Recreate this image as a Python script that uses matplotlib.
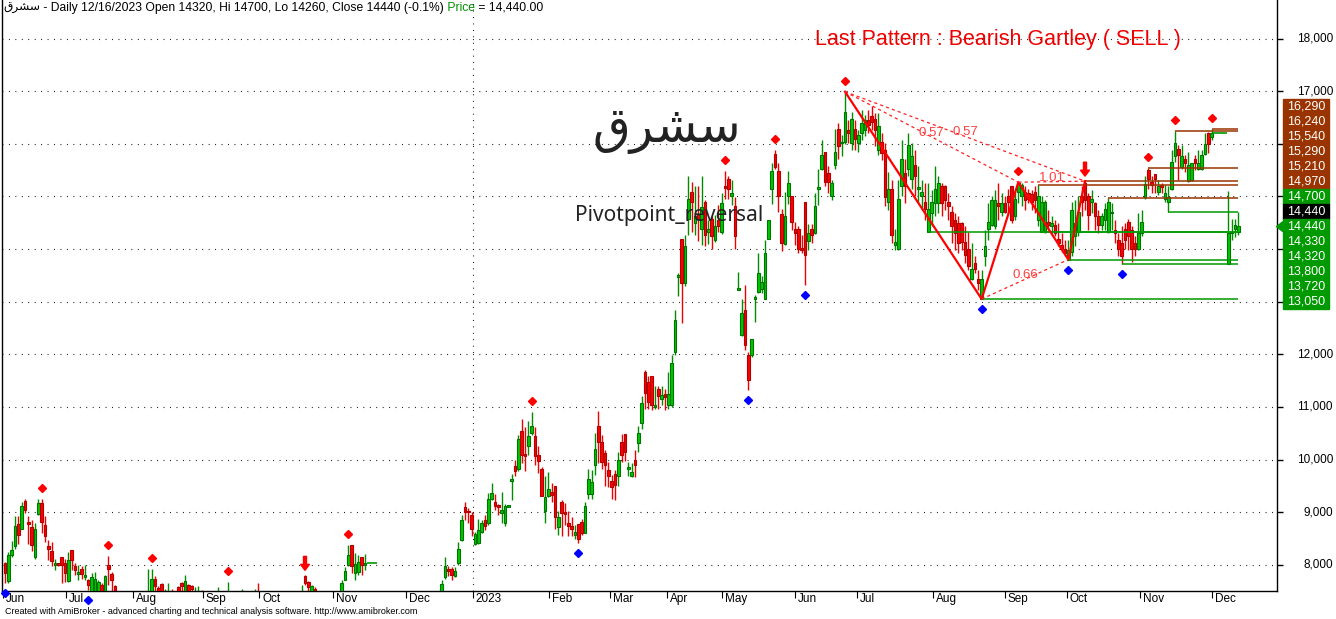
import matplotlib
matplotlib.use('Agg')
import matplotlib.pyplot as plt
import matplotlib.transforms as mtransforms
from matplotlib.patches import Rectangle, Polygon
import numpy as np

# daily bars, Jun 2022 .. 16 Dec 2023
opens = [
    8030, 7690, 8190, 8350, 8780, 8690, 9210, 8820, 8710, 8140,
    8960, 9170, 8760, 8360, 8260, 8000, 8030, 8140, 8040, 7700,
    8280, 7980, 7830, 7920, 7760, 7710, 7460, 7450, 7420, 7620,
    7420, 8000, 7830, 7600, 7440, 7350, 7300, 7380, 7280, 7220,
    7260, 7200, 7330, 7300, 7450, 7740, 7560, 7630, 7400, 7450,
    7510, 7420, 7570, 7650, 7480, 7620, 7590, 7450, 7450, 7480,
    7400, 7350, 7420, 7380, 7400, 7450, 7400, 7420, 7460, 7400,
    7360, 7380, 7420, 7380, 7330, 7350, 7450, 7420, 7380, 7330,
    7280, 7320, 7250, 7200, 7250, 7220, 7280, 7300, 7350, 7400,
    7790, 7670, 7450, 7550, 7420, 7330, 7300, 7330, 7280, 7320,
    7350, 7500, 7710, 7990, 8370, 7850, 7870, 8140, 7990, 8040,
    8040, 8040, 7450, 7300, 7200, 7150, 7180, 7120, 7100, 7140,
    7110, 7160, 7200, 7180, 7230, 7280, 7250, 7300, 7350, 7400,
    7380, 7500, 7760, 7930, 7930, 7780, 8030, 8470, 9090, 9030,
    8950, 8390, 8410, 8630, 8850, 8790, 9260, 9200, 9140, 8980,
    8800, 9110, 9600, 9880, 9830, 10540, 10110, 10260, 10510, 10450,
    10090, 9830, 9030, 9300, 9380, 9500, 8710, 9190, 9000, 8790,
    8730, 8570, 8780, 8820, 8610, 9340, 9340, 9900, 10640, 10330,
    10120, 9800, 9590, 9720, 9690, 10330, 10490, 9820, 9680, 9990,
    10320, 10690, 11670, 11480, 11580, 10990, 11340, 11160, 11250, 11040,
    11040, 12050, 13480, 14190, 13350, 14570, 15090, 14490, 14650, 14390,
    14900, 14330, 14580, 14170, 14550, 14330, 15200, 15340, 15000, 14810,
    13230, 12370, 12840, 11990, 11990, 13050, 13190, 13250, 13060, 14190,
    15140, 15810, 15490, 14670, 14100, 15010, 15010, 14390, 14390, 14020,
    14900, 14160, 14380, 14300, 15140, 15530, 15850, 15450, 15000, 15600,
    16290, 16010, 16040, 16260, 16010, 16290, 16010, 16200, 16260, 16450,
    16520, 16480, 15880, 16040, 15880, 14900, 15150, 14080, 14000, 15190,
    15440, 15530, 15340, 15600, 15140, 15000, 14900, 14330, 14680, 14870,
    14870, 15190, 15190, 14900, 14710, 14550, 14490, 14490, 14140, 14010,
    13440, 13740, 13440, 13050, 13860, 14390, 14460, 14430, 14870, 14710,
    14880, 15000, 15190, 14620, 15090, 15000, 15090, 15070, 15050, 15090,
    14550, 14330, 14330, 14520, 14430, 14460, 14200, 14080, 14010, 13800,
    13950, 14240, 14330, 15000, 15250, 15000, 14900, 14870, 14620, 14460,
    14550, 14330, 14680, 14360, 14170, 14110, 14390, 14520, 14360, 14110,
    14010, 14300, 14980, 15500, 15280, 15430, 15090, 15220, 14960, 14900,
    15140, 15770, 15900, 15550, 15710, 15300, 15310, 15710, 15530, 15520,
    15810, 16210, 16120, 16200, 16200, 16200, 16200, 13720, 14300, 14390,
    14320,
]
highs = [
    8060, 8250, 8460, 8920, 8920, 9200, 9250, 8920, 8850, 8790,
    9250, 9250, 8920, 8470, 8440, 8120, 8040, 8140, 8120, 8250,
    8280, 8030, 8000, 7970, 8000, 7740, 7840, 7870, 7710, 7650,
    7810, 8170, 7870, 7620, 7480, 7420, 7400, 7450, 7380, 7300,
    7320, 7380, 7420, 7920, 7920, 7780, 7600, 7650, 7550, 7650,
    7540, 7500, 7600, 7680, 7810, 7640, 7620, 7570, 7590, 7520,
    7430, 7460, 7470, 7430, 7570, 7480, 7450, 7680, 7490, 7440,
    7400, 7540, 7460, 7420, 7380, 7540, 7650, 7450, 7420, 7380,
    7350, 7360, 7300, 7280, 7300, 7300, 7330, 7380, 7420, 7620,
    7800, 7690, 7620, 7570, 7450, 7380, 7350, 7380, 7340, 7380,
    7420, 7710, 7950, 8370, 8370, 8220, 8190, 8140, 8200, 8040,
    8040, 8040, 7480, 7350, 7260, 7220, 7250, 7180, 7160, 7200,
    7180, 7230, 7260, 7250, 7300, 7330, 7320, 7380, 7420, 7460,
    7450, 7710, 8140, 7980, 7960, 7950, 8440, 8950, 9200, 9080,
    9000, 8620, 8870, 8850, 8950, 9360, 9550, 9350, 9160, 9390,
    9150, 9130, 9720, 10000, 10470, 10770, 10610, 10740, 10910, 10610,
    10260, 9850, 9680, 9770, 9560, 9500, 9030, 9230, 9180, 9020,
    8900, 8760, 8780, 8880, 9200, 9820, 9800, 10500, 10930, 10470,
    10180, 9960, 9710, 9800, 10150, 10490, 10490, 9960, 9940, 10180,
    10640, 11210, 11700, 11580, 11590, 11390, 11390, 11390, 11350, 11670,
    11990, 12840, 13540, 14190, 14270, 15380, 15280, 15200, 15200, 15380,
    14930, 14550, 14630, 14650, 14840, 15070, 15490, 15380, 15310, 14980,
    13570, 13060, 13320, 12050, 12290, 13130, 13920, 13480, 14170, 14550,
    15630, 15880, 15640, 14770, 15090, 15490, 15010, 14520, 14430, 14270,
    14900, 14480, 14480, 15060, 15530, 16070, 15850, 15580, 15310, 16290,
    16390, 16170, 16990, 16450, 16610, 16450, 16260, 16640, 16550, 16640,
    16710, 16580, 16580, 16200, 16010, 15470, 15310, 14390, 15310, 16070,
    15720, 16200, 16010, 15880, 15570, 15310, 15250, 15250, 15120, 15570,
    15380, 15250, 15220, 15060, 14810, 14680, 14620, 14520, 14430, 14330,
    14110, 13860, 13600, 13600, 14360, 14870, 15000, 15120, 15250, 15060,
    15000, 15150, 15200, 15120, 15270, 15250, 15190, 15150, 15120, 15190,
    15210, 15000, 14930, 14740, 14620, 14550, 14490, 14300, 14170, 14170,
    14900, 14930, 15000, 15190, 15290, 15060, 15120, 14900, 14740, 14680,
    14870, 14970, 14870, 14550, 14300, 14430, 14490, 14580, 14430, 14240,
    14680, 14740, 15390, 15540, 15390, 15430, 15310, 15250, 15220, 15200,
    15880, 16240, 15980, 15980, 15790, 15850, 15630, 15790, 15880, 15880,
    16200, 16230, 16290, 16200, 16200, 16200, 16200, 15110, 14570, 14580,
    14700,
]
lows = [
    7660, 7650, 8140, 8310, 8400, 8680, 8980, 8400, 8270, 8120,
    8950, 8610, 8440, 8090, 7970, 7900, 7970, 7650, 7680, 7680,
    7900, 7810, 7710, 7740, 7710, 7520, 7380, 7350, 7330, 7350,
    7360, 7620, 7450, 7380, 7300, 7250, 7200, 7250, 7180, 7150,
    7180, 7150, 7250, 7250, 7400, 7400, 7350, 7400, 7350, 7400,
    7350, 7380, 7400, 7450, 7420, 7400, 7450, 7400, 7400, 7350,
    7300, 7300, 7350, 7320, 7350, 7380, 7350, 7380, 7380, 7330,
    7300, 7330, 7350, 7300, 7280, 7300, 7380, 7350, 7300, 7250,
    7200, 7220, 7180, 7150, 7180, 7170, 7220, 7250, 7300, 7350,
    7620, 7450, 7400, 7350, 7300, 7250, 7220, 7260, 7200, 7260,
    7280, 7450, 7710, 7980, 7850, 7710, 7810, 7810, 7900, 8040,
    8040, 8040, 7250, 7150, 7100, 7080, 7100, 7050, 7020, 7080,
    7050, 7100, 7140, 7120, 7180, 7200, 7200, 7250, 7300, 7330,
    7320, 7450, 7740, 7780, 7710, 7760, 8000, 8450, 8850, 8800,
    8550, 8370, 8390, 8600, 8660, 8760, 9230, 9050, 8950, 8790,
    8730, 9100, 9230, 9680, 9790, 9930, 9790, 10090, 10470, 9900,
    9750, 9310, 8790, 9280, 9200, 8690, 8570, 8550, 8760, 8550,
    8550, 8490, 8410, 8570, 8600, 9250, 9250, 9710, 9930, 9830,
    9490, 9470, 9250, 9230, 9500, 9960, 9980, 9690, 9660, 9660,
    10150, 10580, 10970, 10970, 10940, 10960, 10970, 11040, 10940, 10970,
    11000, 11990, 13100, 12590, 13290, 14270, 14330, 14270, 14160, 14080,
    14050, 14100, 14010, 14140, 14330, 14290, 14960, 14960, 14840, 14010,
    13230, 12340, 12080, 11320, 11950, 12620, 13160, 13160, 13060, 14190,
    14860, 15530, 14710, 13970, 14080, 14860, 14360, 14080, 13920, 13920,
    13320, 13980, 14110, 14290, 14840, 15500, 15190, 15060, 14930, 15530,
    15720, 15760, 16000, 16010, 15880, 15880, 15850, 16070, 16140, 16200,
    16260, 15950, 15790, 15690, 14810, 14740, 14110, 13980, 13980, 15000,
    14870, 15380, 15150, 15000, 14870, 14740, 14550, 14320, 14430, 14620,
    14680, 14620, 14740, 14550, 14110, 13980, 13920, 13980, 13730, 13600,
    13410, 13540, 13220, 13050, 13670, 14170, 14430, 14390, 14550, 14620,
    14680, 14680, 14490, 14550, 14870, 14810, 14740, 14870, 14740, 14680,
    14430, 14330, 14300, 14360, 14300, 14240, 14050, 13950, 13860, 13800,
    13860, 14050, 14240, 14620, 14740, 14360, 14680, 14360, 14300, 14360,
    14360, 14300, 14360, 14110, 13860, 13720, 14010, 13980, 13760, 13860,
    13980, 14240, 14960, 15150, 15060, 15060, 15030, 15060, 14900, 14700,
    15120, 15660, 15310, 15530, 15470, 15280, 15300, 15500, 15500, 15500,
    15790, 15830, 16070, 16200, 16200, 16200, 16200, 13720, 14170, 14220,
    14260,
]
closes = [
    7840, 8190, 8280, 8740, 8570, 9120, 9040, 8770, 8380, 8680,
    9180, 8820, 8540, 8300, 8080, 8030, 8000, 8000, 7850, 8090,
    8090, 7900, 7870, 7830, 7810, 7620, 7760, 7740, 7680, 7420,
    7790, 7920, 7710, 7440, 7350, 7300, 7380, 7280, 7220, 7260,
    7200, 7330, 7300, 7480, 7730, 7590, 7420, 7480, 7500, 7510,
    7420, 7470, 7480, 7590, 7690, 7490, 7540, 7510, 7500, 7400,
    7350, 7420, 7380, 7400, 7450, 7400, 7420, 7460, 7400, 7360,
    7380, 7420, 7380, 7330, 7350, 7400, 7420, 7380, 7330, 7280,
    7320, 7250, 7200, 7250, 7220, 7280, 7300, 7350, 7400, 7480,
    7660, 7570, 7590, 7420, 7330, 7300, 7330, 7280, 7320, 7350,
    7400, 7650, 7880, 8180, 7970, 8010, 8060, 8000, 8040, 8040,
    8040, 8040, 7300, 7200, 7150, 7180, 7120, 7100, 7140, 7110,
    7160, 7200, 7180, 7230, 7280, 7250, 7300, 7350, 7400, 7380,
    7420, 7640, 7970, 7890, 7810, 7880, 8300, 8850, 9000, 9000,
    8690, 8590, 8660, 8790, 8730, 9260, 9360, 9120, 9090, 9040,
    9120, 9120, 9630, 9790, 10390, 10090, 10060, 10450, 10640, 10070,
    9980, 9310, 9280, 9440, 9330, 8900, 8900, 8990, 8970, 8730,
    8680, 8620, 8490, 8600, 9120, 9630, 9570, 10210, 10340, 9960,
    9900, 9680, 9470, 9520, 9990, 10090, 10150, 9850, 9760, 9900,
    10500, 11070, 11260, 11100, 11040, 11040, 11210, 11230, 11180, 11250,
    11840, 12650, 13500, 13350, 14060, 14960, 14900, 14630, 14580, 14790,
    14270, 14390, 14240, 14430, 14440, 14870, 15170, 15150, 15060, 14240,
    13260, 12790, 12180, 11510, 12290, 13080, 13540, 13380, 13930, 14550,
    15490, 15550, 15010, 14120, 14620, 15250, 14520, 14310, 14000, 13990,
    13890, 14300, 14270, 14820, 15170, 15790, 15280, 15280, 15250, 15850,
    15950, 16040, 16610, 16200, 16480, 16100, 16170, 16390, 16450, 16360,
    16420, 16260, 16330, 15820, 14980, 15150, 14270, 14140, 14960, 15720,
    15190, 15980, 15770, 15380, 15170, 15090, 14770, 14770, 14900, 15150,
    15250, 14870, 14930, 14810, 14430, 14300, 14110, 14140, 13890, 13670,
    13630, 13630, 13350, 13440, 14050, 14520, 14930, 14930, 14810, 14870,
    14710, 14900, 14550, 14960, 15250, 15220, 14930, 14950, 14900, 14930,
    15010, 14900, 14900, 14460, 14490, 14300, 14110, 14010, 13920, 13980,
    14740, 14490, 14710, 14900, 14930, 14650, 14960, 14620, 14460, 14620,
    14770, 14900, 14710, 14300, 14010, 13860, 14170, 14240, 14010, 14010,
    14300, 14520, 15240, 15340, 15220, 15330, 15200, 15190, 15060, 14980,
    15660, 16010, 15790, 15770, 15630, 15600, 15630, 15640, 15630, 15790,
    16000, 16000, 16200, 16200, 16200, 16200, 16200, 14310, 14330, 14460,
    14440,
]

month_pos = [-0.5, 18.3, 38.3, 59.3, 76.3, 98.3, 120.3, 140.3, 163.3, 181.5,
             198.5, 215.0, 237.0, 255.5, 278.5, 300.0, 318.5, 340.5, 362.0]
month_labels = ['Jun', 'Jul', 'Aug', 'Sep', 'Oct', 'Nov', 'Dec', '2023', 'Feb', 'Mar',
                'Apr', 'May', 'Jun', 'Jul', 'Aug', 'Sep', 'Oct', 'Nov', 'Dec']
year_split = 140.3
price_ticks = list(range(8000, 18001, 1000))
# right-axis labels that stay visible (the rest sit under the level tags)
price_labels = [8000, 9000, 10000, 11000, 12000, 17000, 18000]

piv_hi = [11, 31, 44, 67, 103, 158, 216, 231, 252, 304, 343, 351, 362]
piv_lo = [0, 25, 172, 223, 240, 293, 319, 335]
sell_arrows = [90, 324]

# Gartley X, A, B, C, D
gart_bars = [252, 293, 304, 319, 324]
gart_ratios = ['0.57', '0.57', '1.01', '0.66']

res_levels = [16290, 16240, 15540, 15290, 15210, 14970]
res_start = [362, 351, 343, 324, 310, 331]
sup_levels = [14700, 14330, 14320, 13800, 13720, 13050]
sup_start = [349, 311, 277, 319, 335, 293]

ticker = '\ufed5\ufeae\ufeb8\ufeb3'  # سشرق, shaped glyphs in display order

W, H = 1336, 619
def fx(px):
    return px / W
def fy(py):
    return 1 - py / H

GREEN = '#009a00'
BROWN = '#993300'
LATIN = ['Liberation Sans', 'DejaVu Sans']

fig = plt.figure(figsize=(W / 100, H / 100), dpi=100)
ax = fig.add_axes([fx(1.5), fy(591), fx(1277) - fx(1.5), fy(0) - fy(591)])
ymin, ymax = 7503, 18732
ax.set_ylim(ymin, ymax)
ax.set_xlim(-1.05, 381.6)
dy = (ymax - ymin) / 591.0     # price per pixel
dx = 1 / 3.333                 # bars per pixel

# dotted grid
for p in price_ticks:
    ax.axhline(p, color='black', lw=0.8, ls=(0, (0.8, 5)), zorder=0)
ax.axvline(year_split, color='black', lw=0.8, ls=(0, (0.8, 5)), zorder=0)

# candles
o, h, l, c = (np.array(v, dtype=float) for v in (opens, highs, lows, closes))
idx = np.arange(len(c))
flat = h == l
up = c >= o
m = ~flat
ax.vlines(idx[m], l[m], h[m], colors=np.where(up[m], '#008c00', '#ee0000'), lw=1.0, zorder=2)
bh = np.maximum(np.abs(c - o), 35)
bb = (o + c) / 2 - bh / 2
ax.bar(idx[m], bh[m], bottom=bb[m], width=0.8,
       color=np.where(up[m], '#00c800', '#ff0000'),
       edgecolor=np.where(up[m], '#007400', '#b00000'), lw=0.8, zorder=3)
ax.hlines(c[flat], idx[flat] - 0.5, idx[flat] + 0.5, colors=GREEN, lw=1.2, zorder=3)

# support / resistance levels
last = len(c) - 1
for v, s in zip(res_levels, res_start):
    ax.hlines(v, s, last, colors=BROWN, lw=1.1, zorder=4)
for v, s in zip(sup_levels, sup_start):
    ax.hlines(v, s, last, colors=GREEN, lw=1.1, zorder=4)

# gartley pattern
gx = gart_bars
gy = [h[gx[0]], l[gx[1]], h[gx[2]], l[gx[3]], h[gx[4]]]
ax.plot(gx, gy, color='#ff0000', lw=1.6, zorder=5)
dash_pairs = [(0, 2), (0, 4), (2, 4), (1, 3)]
for (a, b), txt in zip(dash_pairs, gart_ratios):
    ax.plot([gx[a], gx[b]], [gy[a], gy[b]], color='#ff2020', lw=0.9,
            ls=(0, (2.5, 2.5)), zorder=5)
    ax.text((gx[a] + gx[b]) / 2, (gy[a] + gy[b]) / 2 + 4 * dy, txt,
            color='#ff4040', fontsize=9.5, family=LATIN, ha='center', va='center', zorder=6)

# pivot markers
ax.plot(piv_hi, h[piv_hi] + 11 * dy, 'D', color='#ff0000', ms=4.5, mec='#ff0000',
        clip_on=False, zorder=6)
ax.plot(piv_lo, l[piv_lo] - 10 * dy, 'D', color='#0000ff', ms=4.5, mec='#0000ff',
        clip_on=False, zorder=6)
for i in sell_arrows:
    b = h[i]
    pts = [(i, b + 5 * dy), (i - 4.5 * dx, b + 11 * dy), (i - 1.5 * dx, b + 11 * dy),
           (i - 1.5 * dx, b + 19 * dy), (i + 1.5 * dx, b + 19 * dy),
           (i + 1.5 * dx, b + 11 * dy), (i + 4.5 * dx, b + 11 * dy)]
    ax.add_patch(Polygon(pts, closed=True, color='#ff0000', zorder=6))

# axes styling
ax.spines['top'].set_visible(False)
for s in ['left', 'right', 'bottom']:
    ax.spines[s].set_linewidth(1.0)
ax.yaxis.tick_right()
ax.set_yticks(price_ticks)
ax.tick_params(axis='y', direction='out', length=4, width=1, labelright=False)
ax.set_xticks(month_pos)
ax.set_xticklabels(month_labels, fontsize=8.5, family=LATIN)
ax.tick_params(axis='x', direction='out', length=5, width=0.8, pad=-3.5)
shift = mtransforms.ScaledTranslation(3 / 100, 0, fig.dpi_scale_trans)
for lab in ax.get_xticklabels():
    lab.set_horizontalalignment('left')
    lab.set_transform(lab.get_transform() + shift)

# right price labels
tr = mtransforms.blended_transform_factory(fig.transFigure, ax.transData)
for p in price_labels:
    ax.text(fx(1333), p, f'{p:,}', transform=tr, ha='right', va='center',
            fontsize=8.5, family=LATIN, clip_on=False)

# stacked level tags
close_last = int(c[-1])
tags = [(v, BROWN) for v in res_levels] + [(sup_levels[0], GREEN), (close_last, 'black'),
                                           (close_last, 'arrow')] + \
       [(v, GREEN) for v in sup_levels[1:]]
step = 14.98
for k, (v, kind) in enumerate(tags):
    top = 99.3 + k * step
    col = GREEN if kind == 'arrow' else kind
    fig.patches.append(Rectangle((fx(1282.7), fy(top + step)), fx(46.6), step / H,
                                 transform=fig.transFigure, color=col, zorder=10))
    if kind == 'arrow':
        mid = top + step / 2
        fig.patches.append(Polygon([(fx(1276.5), fy(mid)), (fx(1283), fy(mid - 5)),
                                    (fx(1283), fy(mid + 5))], closed=True,
                                   transform=fig.transFigure, color=GREEN, zorder=10))
    fig.text(fx(1306), fy(top + step / 2), f'{v:,}', color='white', fontsize=9,
             family=LATIN, ha='center', va='center', zorder=11)

# titles and captions
fig.text(fx(667), fy(130), ticker, fontsize=35, family='DejaVu Sans', color='#222222',
         ha='center', va='center')
fig.text(fx(575), fy(216), 'Pivotpoint_reversal', fontsize=15, family=['Noto Sans', 'DejaVu Sans'],
         color='#222222', ha='left', va='center')
fig.text(fx(815), fy(40), 'Last Pattern : Bearish Gartley ( SELL )', fontsize=15.5,
         family=LATIN, color='#ee0000', ha='left', va='center')
fig.text(fx(5), fy(612), 'Created with AmiBroker - advanced charting and technical analysis '
         'software. http://www.amibroker.com', fontsize=6.5, family=LATIN, ha='left', va='center')

renderer = fig.canvas.get_renderer()
pieces = [(ticker, 'black'),
          (' - Daily 12/16/2023 Open 14320, Hi 14700, Lo 14260, Close 14440 (-0.1%)', 'black'),
          (' Price', '#009000'), (' = 14,440.00', 'black')]
x0 = 3
for txt, col in pieces:
    t = fig.text(fx(x0), fy(8), txt, fontsize=8.7, family=LATIN, color=col,
                 ha='left', va='center')
    x0 += t.get_window_extent(renderer).width

fig.savefig('out.png', dpi=100)
